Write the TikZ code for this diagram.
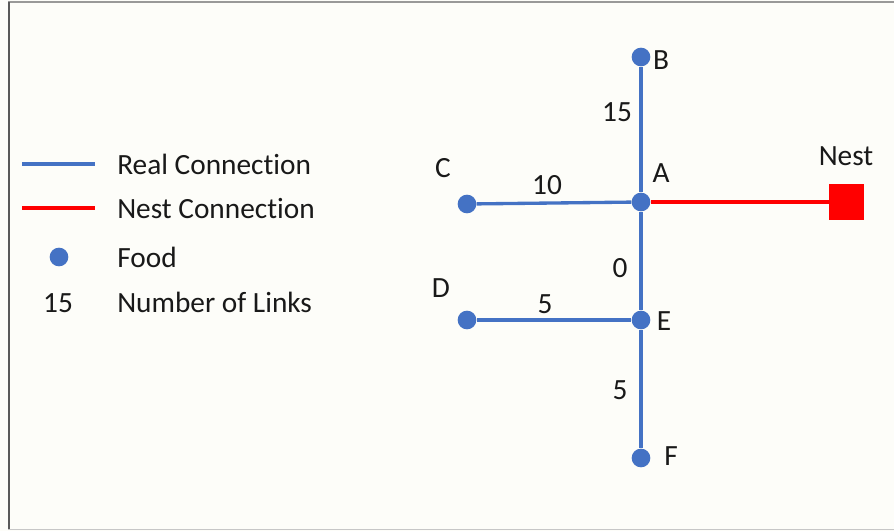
\documentclass[tikz,border=0pt]{standalone}
\usepackage{fontspec}
\setmainfont[Ligatures=NoCommon]{Carlito}
\begin{document}
\begin{tikzpicture}[x=0.75pt,y=-0.75pt,
  font=\fontsize{22}{26}\selectfont,
  realline/.style={draw=realblue,line width=2.5pt},
  nestline/.style={draw=red,line width=2.5pt},
  food/.style={circle,fill=realblue,inner sep=0pt,minimum size=14pt},
  lbl/.style={inner sep=0pt,text=black!90},
  framestyle/.style={line width=1.5pt}]
\definecolor{realblue}{HTML}{4472C4}
\definecolor{bgcol}{HTML}{FDFDF9}
\useasboundingbox (0,0) rectangle (894,531);
\fill[bgcol] (0,0) rectangle (894,531);
% frame
\draw[framestyle,draw=gray!80] (8,2.5) -- (894,2.5);
\draw[framestyle,draw=black!65] (8.5,2) -- (8.5,529);
\draw[line width=1.2pt,draw=black!22] (8,529.5) -- (894,529.5);
% legend
\coordinate (l1a) at (22,164); \coordinate (l1b) at (95,164);
\coordinate (l2a) at (22,208); \coordinate (l2b) at (95,208);
\draw[realline] (l1a) -- (l1b);
\draw[nestline] (l2a) -- (l2b);
\node[food] (lfood) at (59,257) {};
\node[lbl] (l15) at (58,303) {15};
\node[lbl,anchor=west] (t1) at (117,164) {Real Connection};
\node[lbl,anchor=west] (t2) at (117,209) {Nest Connection};
\node[lbl,anchor=west] (t3) at (117,257) {Food};
\node[lbl,anchor=west] (t4) at (117,302) {Number of Links};
% graph nodes
\node[food] (B) at (641,57) {};
\node[food] (A) at (641,202) {};
\node[food] (C) at (467,204) {};
\node[food] (E) at (641,320) {};
\node[food] (D) at (467,320) {};
\node[food] (F) at (641,458) {};
\node[fill=red,inner sep=0pt,minimum size=26.5pt] (N) at (846.5,202) {};
% connectors
\draw[realline] (B) -- (A);
\draw[realline] (C) -- (A);
\draw[realline] (A) -- (E);
\draw[realline] (D) -- (E);
\draw[realline] (E) -- (F);
\draw[nestline] (A) -- (N);
% labels
\node[lbl] (lB) at (661,60) {B};
\node[lbl] (lA) at (661,173) {A};
\node[lbl] (lC) at (443,168) {C};
\node[lbl] (lD) at (441,288) {D};
\node[lbl] (lE) at (664,321) {E};
\node[lbl] (lF) at (671,456) {F};
\node[lbl] (lN) at (846,156) {Nest};
\node[lbl] (n15) at (617,112) {15};
\node[lbl] (n10) at (547,185) {10};
\node[lbl] (n0) at (620,268) {0};
\node[lbl] (n5a) at (545,304) {5};
\node[lbl] (n5b) at (620,390) {5};
\end{tikzpicture}
\end{document}
